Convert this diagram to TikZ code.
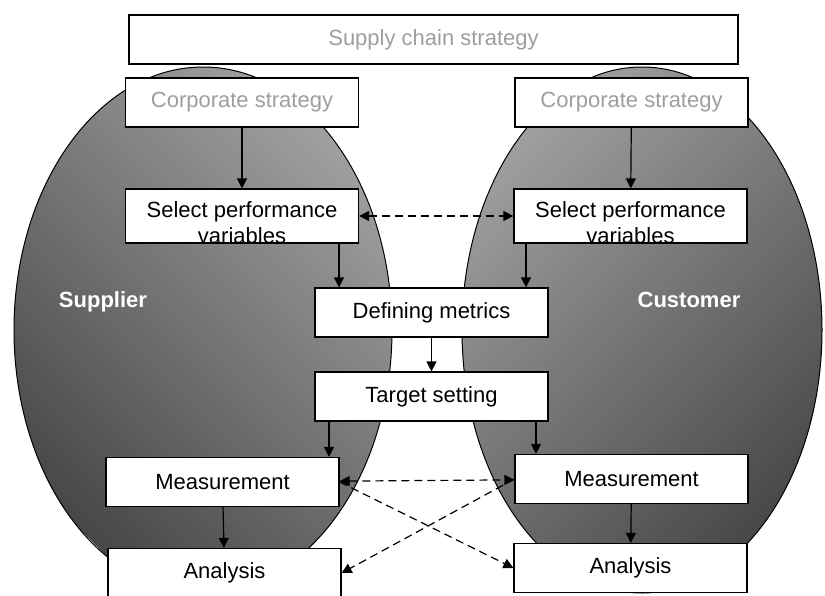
\documentclass[tikz,border=0pt]{standalone}
\usepackage{fontspec}
\setmainfont{Liberation Sans}
\usetikzlibrary{arrows.meta}
\definecolor{softgray}{HTML}{9E9E9E}
\definecolor{shadelight}{HTML}{A0A0A0}
\definecolor{shadedark}{HTML}{474747}

\begin{document}
\begin{tikzpicture}[x=1pt,y=-1pt,
    box/.style={draw, line width=1.2pt, fill=white, minimum width=233pt,
      minimum height=49pt, inner sep=0pt, font=\fontsize{22}{26}\selectfont},
    txt/.style={inner sep=0pt, align=center, font=\fontsize{22}{26}\selectfont},
    side/.style={text=white, font=\fontsize{22}{26}\selectfont\bfseries},
    arr/.style={->, line width=1.2pt},
    dasharr/.style={arr, dash pattern=on 8pt off 5pt},
    >={Triangle[length=10pt,width=10pt]}]
  \useasboundingbox (0,0) rectangle (825,595);
  %
  % macro: shaded partner oval at centre, x radius, angle of the light side, left/right colour
  \newcommand{\partner}[6]{
    \begin{scope}
      \clip (#1,#2) ellipse [x radius=#3, y radius=263];
      \begin{scope}[transform canvas={rotate around={#4:(#1,#2)}}]
        \shade[left color=#5, right color=#6]
          (#1-228,#2-300) rectangle (#1+228,#2+300);
      \end{scope}
    \end{scope}
    \draw[line width=1pt] (#1,#2) ellipse [x radius=#3, y radius=263];
  }
  %
  \partner{203}{330}{189}{45}{shadedark}{shadelight}
  \partner{642}{330}{180}{-45}{shadelight}{shadedark}
  \node[side] (supplier) at (103,302) {Supplier};
  \node[side] (customer) at (689,300) {Customer};
  %
  % strategy boxes
  \node[box, minimum width=609pt, text=softgray] (chain) at (433.5,39.5) {Supply chain strategy};
  \node[box, text=softgray] (lcorp) at (242,102.5) {Corporate strategy};
  \node[box, text=softgray] (rcorp) at (631.5,102.5) {Corporate strategy};
  %
  % select performance variables (text sits low in the box)
  \node[box, minimum height=54pt] (lsel) at (242,216) {};
  \node[txt] (lseltxt) at ([yshift=-7pt]lsel.center) {Select performance\\variables};
  \node[box, minimum height=54pt] (rsel) at (630.5,216) {};
  \node[txt] (rseltxt) at ([yshift=-7pt]rsel.center) {Select performance\\variables};
  %
  % shared steps
  \node[box] (metrics) at (431.5,312.5) {Defining metrics};
  \node[box] (target) at (431.5,396.5) {Target setting};
  %
  % measurement and analysis
  \node[box] (lmeas) at (222.5,482) {Measurement};
  \node[box] (rmeas) at (631.5,479) {Measurement};
  \node[box] (lana) at (224.5,573) {Analysis};
  \node[box] (rana) at (630.5,568) {Analysis};
  %
  % flow
  \draw[arr] (lcorp) -- (lsel);
  \draw[arr] (rcorp) -- (rsel);
  \draw[dasharr, <->] (lsel) -- (rsel);
  \draw[arr] (339,0 |- lsel.south) -- (339,0 |- metrics.north);
  \draw[arr] (526,0 |- rsel.south) -- (526,0 |- metrics.north);
  \draw[arr] (metrics) -- (target);
  \draw[arr] (329,0 |- target.south) -- (329,0 |- lmeas.north);
  \draw[arr] (536,0 |- target.south) -- (536,0 |- rmeas.north);
  \draw[arr] (lmeas) -- (lana);
  \draw[arr] (rmeas) -- (rana);
  \draw[dasharr, <->] (lmeas) -- (rmeas);
  \draw[dasharr] (lmeas.east) -- (rana.west);
  \draw[dasharr] (rmeas.west) -- (lana.east);
\end{tikzpicture}
\end{document}
